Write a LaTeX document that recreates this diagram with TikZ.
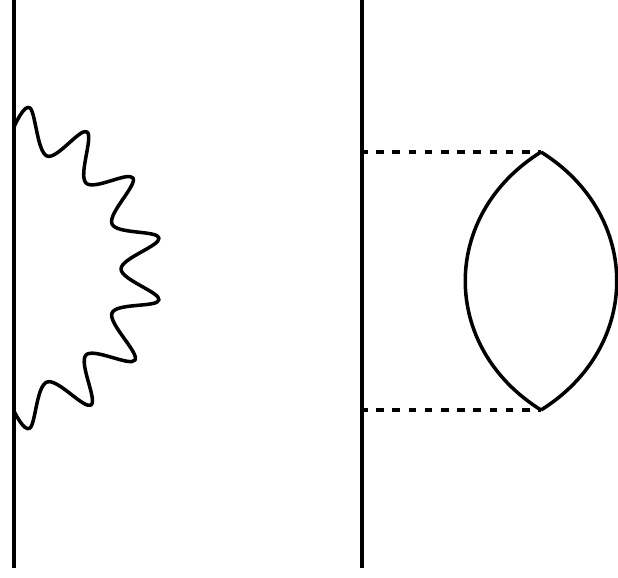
\documentclass[tikz,border=0pt]{standalone}
\usepackage{tikz}
\usetikzlibrary{calc}

\begin{document}
\begin{tikzpicture}[line width=1pt]
      \useasboundingbox (0,0) rectangle (6.18,5.77);
      \coordinate (lefttop) at (0.14,5.77);
      \coordinate (leftbot) at (0.14,0.09);
      \coordinate (righttop) at (3.62,5.77);
      \coordinate (rightbot) at (3.62,0.09);
      \coordinate (dotup) at (3.62,4.25);
      \coordinate (dotdown) at (3.62,1.67);
      \coordinate (lensup) at (5.41,4.25);
      \coordinate (lensdown) at (5.41,1.67);
      \tikzset{dotline/.style={line width=1.15pt, dash pattern=on 0.075cm off 0.087cm, dash phase=0.02cm}}
      % fermion lines
      \draw[line width=1.15pt] (lefttop) -- (leftbot);
      \draw[line width=1.15pt] (righttop) -- (rightbot);
      % photon
      \draw[line join=round] plot[smooth, tension=0.62] coordinates {
        (0.14,4.50) (0.30,4.69) (0.47,4.21) (0.87,4.45) (0.86,3.94)
        (1.33,3.99) (1.12,3.53) (1.59,3.39) (1.21,3.08) (1.59,2.77)
        (1.12,2.64) (1.35,2.17) (0.86,2.22) (0.91,1.72) (0.47,1.95)
        (0.30,1.49) (0.14,1.66)};
      % bubble
      \draw[dotline] (dotup) -- (lensup);
      \draw[dotline] (dotdown) -- (lensdown);
      \draw (lensup) .. controls (4.40,3.62) and (4.40,2.30) .. (lensdown);
      \draw (lensup) .. controls (6.42,3.62) and (6.42,2.30) .. (lensdown);
    \end{tikzpicture}
\end{document}
